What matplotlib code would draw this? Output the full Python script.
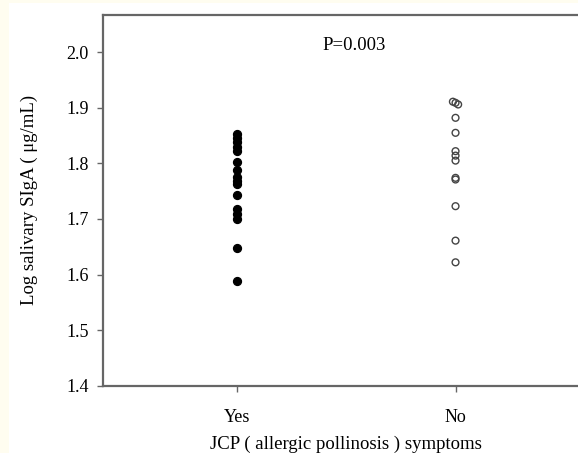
import matplotlib.pyplot as plt
from matplotlib.patches import Rectangle

# data
categories = ["Yes", "No"]
yes_values = [1.853, 1.845, 1.838, 1.830, 1.822, 1.802, 1.789, 1.775,
              1.769, 1.763, 1.744, 1.718, 1.709, 1.700, 1.648, 1.589]
no_values = [1.911, 1.909, 1.906, 1.882, 1.855, 1.822, 1.814, 1.805,
             1.774, 1.771, 1.723, 1.661, 1.622]
# small sideways offsets of overlapping open circles
no_offsets = [-0.012, 0.0, 0.012, 0, 0, 0, 0, 0, 0, 0, 0, 0, 0]
y_ticks = [1.4, 1.5, 1.6, 1.7, 1.8, 1.9, 2.0]
p_text = "P=0.003"

W, H = 578, 453
plt.rcParams['font.family'] = ['Liberation Serif', 'DejaVu Serif']

fig = plt.figure(figsize=(W / 100, H / 100), dpi=100)
fig.patch.set_facecolor('#fffdf0')
fig.patches.append(Rectangle((9 / W, 0), 1, 450 / H, transform=fig.transFigure,
                             facecolor='white', edgecolor='none', zorder=-10))

# axes runs past the right edge of the picture
left, right, top, bottom = 103, 589.5, 15, 385.7
ax = fig.add_axes([left / W, 1 - bottom / H, (right - left) / W, (bottom - top) / H])
ax.set_facecolor('none')

ax.scatter([1] * len(yes_values), yes_values, s=32, color='black', zorder=3)
ax.scatter([2 + d for d in no_offsets], no_values, s=24, facecolors='none',
           edgecolors='#444444', linewidths=1.0, zorder=3)

ax.set_xlim(0.387, 2.613)
ax.set_ylim(1.4, 2.067)
ax.set_xticks([1, 2])
ax.set_xticklabels(categories)
ax.set_yticks(y_ticks)
ax.set_yticklabels(["%.1f" % v for v in y_ticks])

for side in ['left', 'bottom', 'top']:
    ax.spines[side].set_color('#666666')
    ax.spines[side].set_linewidth(1.6)
ax.spines['right'].set_visible(False)
ax.tick_params(direction='out', length=4.5, width=1, color='#666666',
               labelsize=13, labelcolor='black')
ax.tick_params(axis='x', pad=12)
ax.tick_params(axis='y', pad=6)

ax.text(1.535, 2.012, p_text, ha='center', va='center', fontsize=13.5)
ax.set_ylabel("Log salivary SIgA ( μg/mL)", fontsize=13.5, labelpad=20)
ax.set_xlabel("JCP ( allergic pollinosis ) symptoms", fontsize=13.5, labelpad=7)

fig.savefig("out.png", dpi=100, facecolor=fig.get_facecolor())
